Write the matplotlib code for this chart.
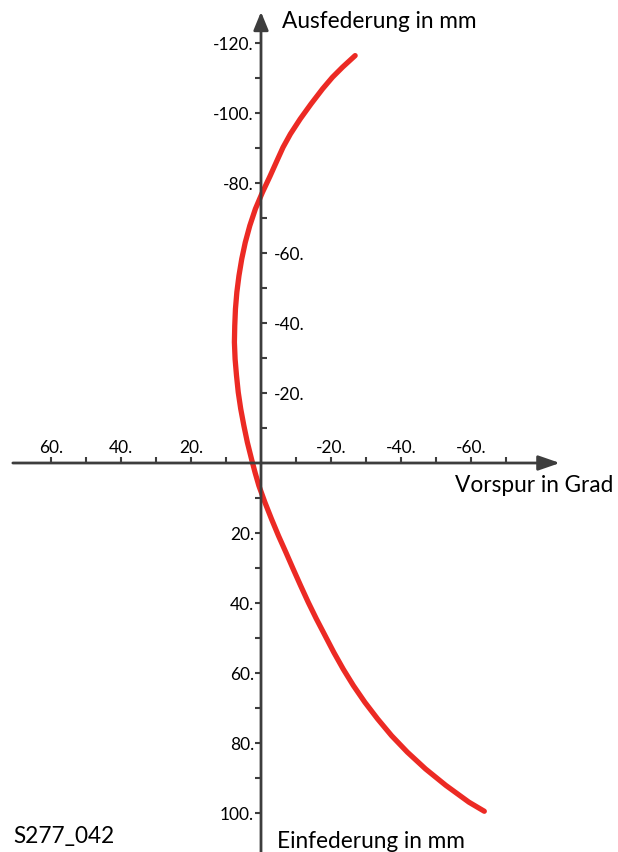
import matplotlib
matplotlib.use("Agg")
from matplotlib import pyplot as plt

# curve: Vorspur (x) against Federung (y)
federung = [-116.4, -113.1, -110.2, -106.9, -102.6, -98.3, -94.0, -90.2,
            -86.9, -82.0, -77.3, -72.6, -67.8, -63.0, -58.3, -53.5, -48.8,
            -44.0, -39.2, -34.5, -29.7, -25.0, -20.2, -15.5, -10.7, -5.9,
            -1.1, 2.7, 6.5, 11.2, 16.0, 20.8, 25.5, 30.3, 35.0, 39.8, 44.5,
            49.3, 54.1, 58.9, 63.6, 68.4, 73.1, 77.9, 82.6, 87.4, 92.1,
            96.9, 99.5]
vorspur = [-26.9, -23.3, -20.4, -17.6, -14.3, -11.2, -8.4, -6.3,
           -4.8, -2.6, -0.4, 1.6, 3.2, 4.5, 5.5, 6.3, 6.9,
           7.3, 7.5, 7.6, 7.4, 7.0, 6.5, 5.8, 4.9, 3.9,
           2.7, 1.7, 0.6, -1.1, -3.0, -5.0, -7.1, -9.2, -11.3, -13.5, -15.8,
           -18.3, -20.8, -23.5, -26.4, -29.7, -33.3, -37.3, -41.8, -47.0, -52.8,
           -59.4, -63.8]

x_major = [60, 40, 20, -20, -40, -60]
x_minor = [50, 30, 10, -10, -30, -50, -70]
y_left = [-120, -100, -80, 20, 40, 60, 80, 100]
y_left_minor = [-110, -90, 10, 30, 50, 70, 90]
y_right = [-60, -40, -20]
y_right_minor = [-70, -50, -30, -10]

axis_col = "#3d3d3d"
red = "#ec2a24"
plt.rcParams['font.family'] = ['Lato', 'DejaVu Sans']

fig = plt.figure(figsize=(6.18, 8.53), dpi=100)
ax = fig.add_axes([0, 0, 1, 1])
ax.axis('off')
# 3.5 px per unit, origin at pixel (261, 464)
ax.set_xlim(261 / 3.5, (261 - 618) / 3.5)
ax.set_ylim((853 - 464) / 3.5, -464 / 3.5)

# axes with arrows
ax.annotate('', xy=(-85.4, 0), xytext=(70.9, 0),
            arrowprops=dict(arrowstyle='-|>,head_length=1.3,head_width=0.45',
                            lw=2, color=axis_col, shrinkA=0, shrinkB=0))
ax.annotate('', xy=(0, -128.9), xytext=(0, 112),
            arrowprops=dict(arrowstyle='-|>,head_length=1.1,head_width=0.45',
                            lw=2, color=axis_col, shrinkA=0, shrinkB=0))

# tick marks
tk = dict(ls='none', color=axis_col, markersize=4, markeredgewidth=1.5)
ax.plot(x_major + x_minor, [0] * (len(x_major) + len(x_minor)), marker=2, **tk)
ax.plot([0] * (len(y_left) + len(y_left_minor)), y_left + y_left_minor, marker=0, **tk)
ax.plot([0] * (len(y_right) + len(y_right_minor)), y_right + y_right_minor, marker=1, **tk)

# tick labels
fs = 12.5
for v in x_major:
    ax.text(v, -3.1, '%d.' % v, ha='center', va='baseline', fontsize=fs)
for v in y_left:
    ax.text(2.0, v + 1.8, '%d.' % v, ha='right', va='baseline', fontsize=fs)
for v in y_right:
    ax.text(-3.7, v + 1.8, '%d.' % v, ha='left', va='baseline', fontsize=fs)

# curve
ax.plot(vorspur, federung, color=red, lw=3.8, solid_capstyle='round',
        solid_joinstyle='round')

# axis titles
ts = 16.3
ax.text(-6, -124.6, 'Ausfederung in mm', ha='left', va='baseline', fontsize=ts)
ax.text(-100.6, 8, 'Vorspur in Grad', ha='right', va='baseline', fontsize=ts)
ax.text(-4.6, 109.7, 'Einfederung in mm', ha='left', va='baseline', fontsize=ts)
ax.text(70.9, 108.3, 'S277_042', ha='left', va='baseline', fontsize=ts)

fig.savefig('out.png', dpi=100)
